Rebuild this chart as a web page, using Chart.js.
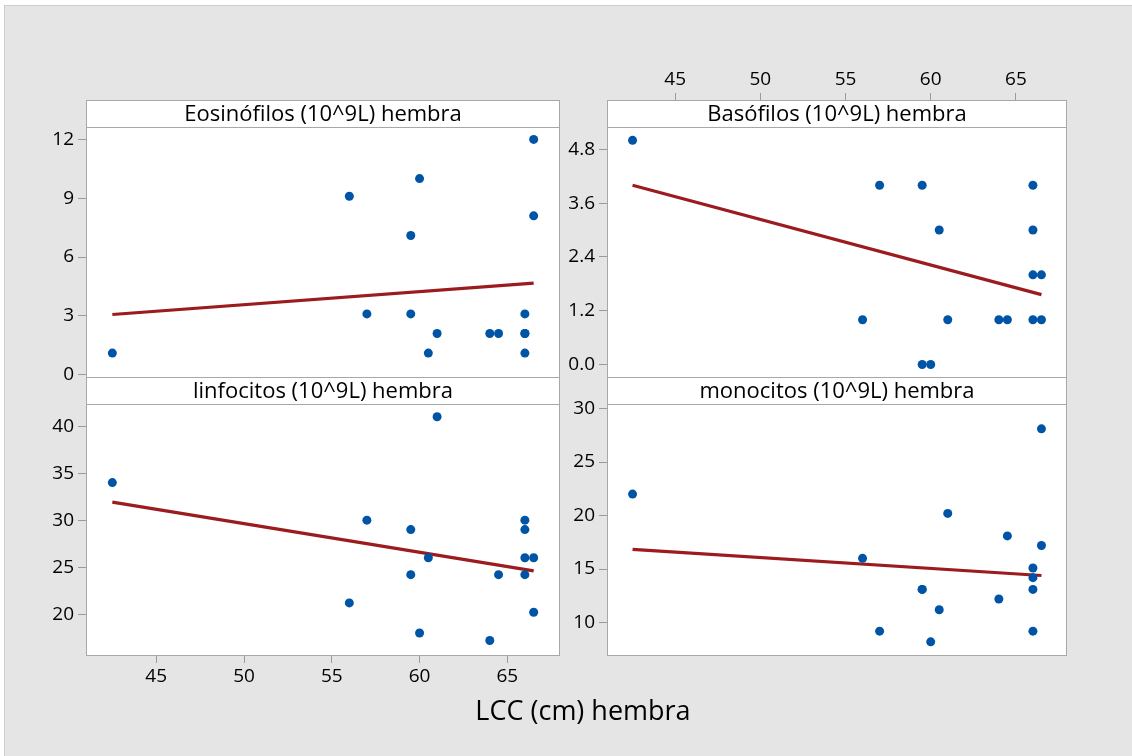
<!DOCTYPE html>
<html>
<head>
<meta charset="utf-8">
<title>LCC (cm) hembra</title>
<script src="https://cdn.jsdelivr.net/npm/chart.js@4.4.1/dist/chart.umd.min.js"></script>
<style>
  html, body { margin: 0; padding: 0; background: #fff; }
  body { width: 1132px; height: 756px; position: relative; overflow: hidden; font-family: 'Open Sans', sans-serif; }
  #frame { position: absolute; left: 4px; top: 5px; right: 0; bottom: 0; background: #e5e5e5;
           border-left: 1px solid #cdcdcd; border-top: 1px solid #cdcdcd; }
  canvas { position: absolute; }
  #xtitle { position: absolute; left: 383px; width: 400px; top: 693px; text-align: center;
            font-size: 27px; font-weight: 500; line-height: 34px; color: #000; }
</style>
</head>
<body>
<div id="frame"></div>
<canvas id="eos"></canvas>
<canvas id="bas"></canvas>
<canvas id="lin"></canvas>
<canvas id="mon"></canvas>
<div id="xtitle">LCC (cm) hembra</div>

<script>
// LCC (cm) de cada hembra, mismo orden en los cuatro paneles
const lcc = [42.5, 56, 57, 59.5, 59.5, 60, 60.5, 61, 64, 64.5, 66, 66, 66, 66, 66.5, 66.5];

const eosinofilos = [1.1, 9.1, 3.1, 7.1, 3.1, 10, 1.1, 2.1, 2.1, 2.1, 3.1, 2.1, 1.1, 2.1, 12, 8.1];
const basofilos   = [5, 1, 4, 4, 0, 0, 3, 1, 1, 1, 4, 3, 2, 1, 2, 1];
const linfocitos  = [34, 21.2, 30, 29, 24.2, 18, 26, 41, 17.2, 24.2, 30, 29, 26, 24.2, 26, 20.2];
const monocitos   = [22, 16, 9.2, 13.1, 13.1, 8.2, 11.2, 20.2, 12.2, 18.1, 15.1, 14.2, 13.1, 9.2, 28.1, 17.2];

// extremos de la recta de regresión
const fitLcc = [42.5, 66.5];
const eosinofilosFit = [3.07, 4.67];
const basofilosFit   = [4.0, 1.56];
const linfocitosFit  = [31.92, 24.6];
const monocitosFit   = [16.84, 14.4];

// marcas de los ejes
const lccTicks = [45, 50, 55, 60, 65];
const eosTicks = [0, 3, 6, 9, 12];
const basTicks = [0, 1.2, 2.4, 3.6, 4.8];
const basTickLabels = ['0.0', '1.2', '2.4', '3.6', '4.8'];
const linTicks = [20, 25, 30, 35, 40];
const monTicks = [10, 15, 20, 25, 30];

Chart.defaults.font.family = "'Open Sans', sans-serif";
Chart.defaults.color = '#000';

const STRIP_H = 27;
const AXIS_H = 40;
const EXTRA_BOTTOM = 14;   // espacio para que no se corte la última etiqueta del eje y
const TICK_COLOR = '#9a9a9a';

// dibuja el fondo blanco, el marco y la franja con el título de cada panel
const panelFrame = {
  id: 'panelFrame',
  beforeDraw(chart) {
    const a = chart.chartArea;
    const ctx = chart.ctx;
    ctx.save();
    ctx.fillStyle = '#fff';
    ctx.fillRect(a.left, a.top, a.right - a.left, a.bottom - a.top);
    ctx.restore();
  },
  afterDraw(chart, args, opts) {
    const a = chart.chartArea;
    const ctx = chart.ctx;
    ctx.save();
    ctx.fillStyle = '#fff';
    ctx.fillRect(a.left, a.top, a.right - a.left, STRIP_H);
    ctx.strokeStyle = '#a8a8a8';
    ctx.lineWidth = 1;
    ctx.strokeRect(a.left + 0.5, a.top + 0.5, a.right - a.left - 1, a.bottom - a.top - 1);
    ctx.beginPath();
    ctx.moveTo(a.left, a.top + STRIP_H + 0.5);
    ctx.lineTo(a.right, a.top + STRIP_H + 0.5);
    ctx.stroke();
    ctx.fillStyle = '#000';
    ctx.font = "22px 'Open Sans', sans-serif";
    ctx.textAlign = 'center';
    ctx.textBaseline = 'middle';
    ctx.fillText(opts.title, (a.left + a.right) / 2, a.top + STRIP_H / 2 + 1);
    ctx.restore();
  }
};

function makePanel(cfg) {
  const canvas = document.getElementById(cfg.id);
  const topH = cfg.xAxis === 'top' ? AXIS_H : 0;
  const botH = cfg.xAxis === 'bottom' ? AXIS_H : EXTRA_BOTTOM;
  const w = cfg.box.w + cfg.yAxisW;
  const h = cfg.box.h + topH + botH;
  canvas.width = w;
  canvas.height = h;
  canvas.style.width = w + 'px';
  canvas.style.height = h + 'px';
  canvas.style.left = (cfg.box.x - cfg.yAxisW) + 'px';
  canvas.style.top = (cfg.box.y - topH) + 'px';

  const yLabels = cfg.yLabels || cfg.yTicks.map(String);

  return new Chart(canvas, {
    type: 'scatter',
    data: {
      datasets: [
        {
          data: lcc.map((x, i) => ({ x: x, y: cfg.ys[i] })),
          pointRadius: 4.5,
          pointBackgroundColor: '#0054a6',
          pointBorderWidth: 0,
          pointHoverRadius: 4.5
        },
        {
          data: fitLcc.map((x, i) => ({ x: x, y: cfg.fit[i] })),
          showLine: true,
          borderColor: '#9b1b1f',
          borderWidth: 3.2,
          pointRadius: 0
        }
      ]
    },
    options: {
      responsive: false,
      animation: false,
      devicePixelRatio: 1,
      events: [],
      layout: {
        padding: { top: 0, left: 0, right: 0, bottom: cfg.xAxis === 'bottom' ? 0 : EXTRA_BOTTOM },
        autoPadding: false
      },
      plugins: {
        legend: { display: false },
        tooltip: { enabled: false },
        panelFrame: { title: cfg.title }
      },
      scales: {
        x: {
          type: 'linear',
          display: cfg.xAxis !== null,
          position: cfg.xAxis || 'bottom',
          min: 41,
          max: 68,
          afterBuildTicks: s => { s.ticks = lccTicks.map(v => ({ value: v })); },
          afterFit: s => {
            s.height = cfg.xAxis ? AXIS_H : 0;
            s.paddingLeft = 0;
            s.paddingRight = 0;
          },
          ticks: { font: { size: 19 }, padding: 2, maxRotation: 0, autoSkip: false,
                   callback: (v, i) => String(lccTicks[i]) },
          grid: { drawOnChartArea: false, drawTicks: true, tickLength: 7, color: TICK_COLOR },
          border: { display: false }
        },
        y: {
          type: 'linear',
          min: cfg.yMin,
          max: cfg.yMax,
          afterBuildTicks: s => { s.ticks = cfg.yTicks.map(v => ({ value: v })); },
          afterFit: s => { s.width = cfg.yAxisW; s.paddingTop = 0; s.paddingBottom = 0; },
          ticks: { font: { size: 19 }, padding: 4, autoSkip: false,
                   callback: (v, i) => yLabels[i] },
          grid: { drawOnChartArea: false, drawTicks: true, tickLength: 8, color: TICK_COLOR },
          border: { display: false }
        }
      }
    },
    plugins: [panelFrame]
  });
}

makePanel({
  id: 'eos', title: 'Eosinófilos (10^9L) hembra',
  box: { x: 86, y: 100, w: 474, h: 278 }, yAxisW: 60, xAxis: null,
  ys: eosinofilos, fit: eosinofilosFit, yTicks: eosTicks, yMin: -0.17, yMax: 14.01
});
makePanel({
  id: 'bas', title: 'Basófilos (10^9L) hembra',
  box: { x: 607, y: 100, w: 460, h: 278 }, yAxisW: 44, xAxis: 'top',
  ys: basofilos, fit: basofilosFit, yTicks: basTicks, yLabels: basTickLabels, yMin: -0.30, yMax: 5.90
});
makePanel({
  id: 'lin', title: 'linfocitos (10^9L) hembra',
  box: { x: 86, y: 377, w: 474, h: 279 }, yAxisW: 60, xAxis: 'bottom',
  ys: linfocitos, fit: linfocitosFit, yTicks: linTicks, yMin: 15.55, yMax: 45.23
});
makePanel({
  id: 'mon', title: 'monocitos (10^9L) hembra',
  box: { x: 607, y: 377, w: 460, h: 279 }, yAxisW: 44, xAxis: null,
  ys: monocitos, fit: monocitosFit, yTicks: monTicks, yMin: 6.88, yMax: 32.94
});
</script>
</body>
</html>
